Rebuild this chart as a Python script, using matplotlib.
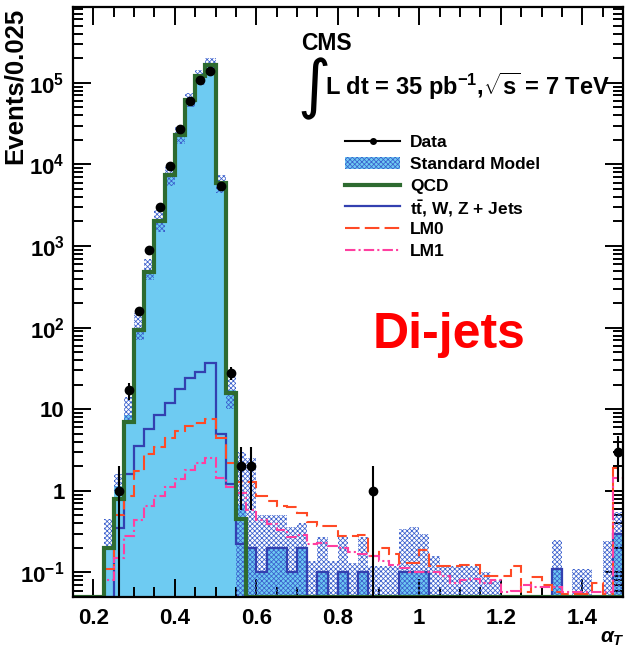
import numpy as np
import matplotlib.pyplot as plt
from matplotlib.patches import Rectangle
from matplotlib.ticker import MultipleLocator, LogLocator, NullFormatter

plt.rcParams["font.family"] = ["Liberation Sans", "DejaVu Sans"]
plt.rcParams["font.weight"] = "bold"
plt.rcParams["mathtext.fontset"] = "custom"
plt.rcParams["mathtext.rm"] = "Liberation Sans:bold"
plt.rcParams["mathtext.bf"] = "Liberation Sans:bold"
plt.rcParams["mathtext.it"] = "Liberation Sans:italic:bold"
plt.rcParams["hatch.linewidth"] = 0.55

# ---- binning: alpha_T from 0.15 to 1.5 in steps of 0.025 (54 bins) ----
x_lo, bin_w, n_bins = 0.15, 0.025, 54
edges = x_lo + bin_w * np.arange(n_bins + 1)
centers = 0.5 * (edges[:-1] + edges[1:])

# ---- values (per bin) ----
qcd = [0, 0, 0, 0.2, 0.8, 7, 93, 480, 2000, 7400,
       23000, 62000, 1.2e5, 1.65e5, 5900, 16, 0.45] + [0] * 37

ewk = [0, 0, 0, 0, 0.35, 1.6, 3.5, 5.8, 8.5, 12,
       17.5, 24, 29, 37, 5.0, 1.2, 0.22, 0.2, 0.1, 0.2,
       0.2, 0.1, 0.2, 0, 0.1, 0, 0.1, 0, 0.1, 0,
       0, 0, 0.1, 0.1, 0.1, 0, 0, 0, 0, 0,
       0, 0, 0, 0, 0, 0, 0, 0.11, 0, 0,
       0, 0, 0, 0.3]

lm0 = [0, 0, 0, 0.11, 0.5, 0.86, 1.74, 2.8, 3.4, 4.5,
       5.35, 6.2, 6.8, 7.6, 4.4, 2.2, 1.3, 1.3, 0.86, 0.75,
       0.65, 0.64, 0.54, 0.42, 0.37, 0.37, 0.28, 0.28, 0.29, 0.16,
       0.2, 0.17, 0.13, 0.13, 0.19, 0.12, 0.12, 0.12, 0.125, 0.125,
       0.09, 0.09, 0.09, 0.12, 0.057, 0.087, 0.07, 0.057, 0.054, 0.054,
       0.054, 0.075, 0.055, 1.9]

lm1 = [0, 0, 0, 0.08, 0.15, 0.28, 0.44, 0.65, 0.86, 1.1,
       1.4, 1.8, 2.2, 2.5, 1.45, 1.1, 0.95, 0.59, 0.44, 0.39,
       0.33, 0.27, 0.29, 0.22, 0.23, 0.21, 0.2, 0.18, 0.166, 0.16,
       0.137, 0.125, 0.113, 0.1, 0.1, 0.1, 0.09, 0.075, 0.08, 0.082,
       0.075, 0.08, 0.057, 0.06, 0.07, 0.066, 0.066, 0.066, 0.057, 0.057,
       0.057, 0.057, 0.057, 1.45]

data = [0, 0, 0, 0, 1, 17, 160, 900, 3000, 9600,
        27000, 60000, 1.07e5, 1.38e5, 5400, 28, 2, 2, 0, 0,
        0, 0, 0, 0, 0, 0, 0, 0, 0, 1] + [0] * 23 + [3]

# SM uncertainty band (upper / lower edge of hatched area)
band_hi = [0, 0, 0, 0.45, 1.6, 14, 150, 700, 2800, 9500,
           30000, 75000, 1.45e5, 2.0e5, 7500, 30, 3.0, 2.5, 0.5, 0.5,
           0.5, 0.36, 0.4, 0.14, 0.27, 0.14, 0.27, 0.13, 0.27, 0.12,
           0.12, 0.12, 0.34, 0.36, 0.3, 0.16, 0.12, 0.12, 0.12, 0.12,
           0.1, 0.08, 0, 0, 0, 0, 0, 0.25, 0, 0.11,
           0.11, 0, 0.24, 0.55]
band_lo = [0, 0, 0, 0.2, 1.0, 7, 70, 380, 1500, 5500,
           18000, 50000, 0.95e5, 1.3e5, 4500, 10] + [0] * 38

x_ticks = [0.2, 0.4, 0.6, 0.8, 1.0, 1.2, 1.4]
x_ticklabels = ["0.2", "0.4", "0.6", "0.8", "1", "1.2", "1.4"]
y_ticks = [0.1, 1, 10, 100, 1e3, 1e4, 1e5]
y_ticklabels = [r"$10^{-1}$", "1", "10", r"$10^{2}$", r"$10^{3}$", r"$10^{4}$", r"$10^{5}$"]

legend_labels = ["Data", "Standard Model", "QCD", r"t$\bar{\mathrm{t}}$, W, Z + Jets", "LM0", "LM1"]

YMIN, YMAX = 0.05, 8.5e5

# colours / styles
c_fill = "#6ecbf2"
c_hatch = "#3a5fcd"
c_qcd = "#2e6b30"
c_ewk = "#3340b0"
c_lm0 = "#ff4a26"
c_lm1 = "#ff3fa0"
ls_lm0 = (0, (7, 2.5))
ls_lm1 = (0, (5, 1.5, 1, 1.5))

#-----------------------------
# Figure
#-----------------------------
W, H = 630, 653
fig = plt.figure(figsize=(W / 100, H / 100), dpi=100)
ax = fig.add_axes([73 / W, 1 - 597 / H, 550 / W, 590 / H])
ax.set_yscale("log")

qcd = np.array(qcd, float)
ewk = np.array(ewk, float)
sm = qcd + ewk

def floor(v):
    # zero bins are drawn on the axis minimum, as ROOT does
    return np.clip(np.asarray(v, float), YMIN, None)

ax.stairs(floor(sm), edges, baseline=YMIN, fill=True, color=c_fill, lw=0, zorder=1)
ax.stairs(floor(band_hi), edges, baseline=floor(band_lo), fill=True,
          facecolor="none", edgecolor=c_hatch, hatch="xxxxxxx", lw=0, zorder=2)
ax.stairs(floor(ewk), edges, baseline=None, color=c_ewk, lw=1.6, zorder=3)
ax.stairs(floor(lm0), edges, baseline=None, color=c_lm0, lw=1.5, linestyle=ls_lm0, zorder=4)
ax.stairs(floor(lm1), edges, baseline=None, color=c_lm1, lw=1.5, linestyle=ls_lm1, zorder=4)
ax.stairs(floor(qcd), edges, baseline=None, color=c_qcd, lw=3.0, zorder=5)

data = np.array(data, float)
m = data > 0
err = np.sqrt(data[m])
lo = np.minimum(err, data[m] - 1e-3)
ax.errorbar(centers[m], data[m], yerr=[lo, err], fmt="o", color="k",
            ms=6, elinewidth=1.5, capsize=0, zorder=6)

#-----------------------------
# Axes style
#-----------------------------
ax.set_xlim(edges[0], edges[-1])
ax.set_ylim(YMIN, YMAX)
ax.set_xticks(x_ticks, x_ticklabels)
ax.xaxis.set_minor_locator(MultipleLocator(0.05))
ax.set_yticks(y_ticks, y_ticklabels)
ax.yaxis.set_minor_locator(LogLocator(base=10, subs=np.arange(2, 10)))
ax.yaxis.set_minor_formatter(NullFormatter())
ax.tick_params(which="both", direction="in", top=True, right=True, width=1.4)
ax.tick_params(which="major", length=13, labelsize=16)
ax.tick_params(axis="x", which="major", pad=8)
ax.tick_params(axis="y", which="major", pad=6)
ax.tick_params(which="minor", length=7)
for s in ax.spines.values():
    s.set_linewidth(1.6)
    s.set_zorder(10)

#-----------------------------
# Legend (drawn by hand so every row has the same height)
#-----------------------------
def px_to_ax(xp, yp):
    return (xp - 73) / 550, (597 - yp) / 590

row_y = [141, 163, 185, 206, 228, 250]
hx0, hx1 = px_to_ax(345, 0)[0], px_to_ax(400, 0)[0]
tx = px_to_ax(410, 0)[0]
kw = dict(transform=ax.transAxes, clip_on=False, zorder=7)
for i, (yp, lab) in enumerate(zip(row_y, legend_labels)):
    ya = px_to_ax(0, yp)[1]
    if i == 0:
        ax.plot([hx0, hx1], [ya, ya], color="k", lw=1.5, **kw)
        ax.plot([(hx0 + hx1) / 2], [ya], "o", color="k", ms=4, **kw)
    elif i == 1:
        h = 12 / 590
        ax.add_patch(Rectangle((hx0, ya - h / 2), hx1 - hx0, h, facecolor=c_fill,
                               edgecolor=c_hatch, hatch="xxxxxxx", lw=0, **kw))
    elif i == 2:
        ax.plot([hx0, hx1], [ya, ya], color=c_qcd, lw=3.0, **kw)
    elif i == 3:
        ax.plot([hx0, hx1], [ya, ya], color=c_ewk, lw=1.6, **kw)
    elif i == 4:
        ax.plot([hx0, hx1], [ya, ya], color=c_lm0, lw=1.5, linestyle=ls_lm0, **kw)
    else:
        ax.plot([hx0, hx1], [ya, ya], color=c_lm1, lw=1.5, linestyle=ls_lm1, **kw)
    ax.text(tx, ya, lab, fontsize=12.5, ha="left", va="center_baseline",
            transform=ax.transAxes, zorder=7)

#-----------------------------
# Text
#-----------------------------
fig.text(301 / W, 1 - 43 / H, "CMS", fontsize=16.5, ha="left", va="center")
fig.text(297 / W, 1 - 89 / H, "\u222b", fontsize=46, ha="left", va="center",
         family="DejaVu Sans", weight="normal")
fig.text(325 / W, 1 - 86 / H, r"L dt = 35 pb$^{-1}$,$\sqrt{\mathrm{s}}$ = 7 TeV",
         fontsize=17, ha="left", va="center")
fig.text(449 / W, 1 - 335 / H, "Di-jets", color="red", fontsize=36,
         ha="center", va="center")
fig.text(15 / W, 1 - 86 / H, "Events/0.025", rotation=90, fontsize=18.5,
         ha="center", va="center")
fig.text(612 / W, 1 - 638 / H, r"$\alpha_{T}$", fontsize=15, ha="center", va="center")

fig.savefig("out.png", dpi=100)
plt.close(fig)
